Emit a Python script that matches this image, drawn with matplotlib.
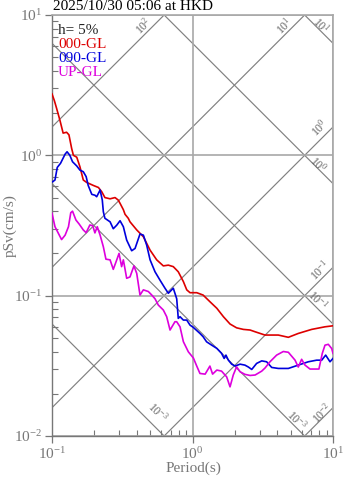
import numpy as np
import matplotlib
matplotlib.use('Agg')
import matplotlib.pyplot as plt
from matplotlib.ticker import LogLocator, FixedLocator, FixedFormatter, NullFormatter

plt.rcParams['font.family'] = ['Liberation Serif', 'DejaVu Serif']
plt.rcParams['mathtext.fontset'] = 'custom'
plt.rcParams['mathtext.rm'] = 'Liberation Serif'

title = '2025/10/30 05:06 at HKD'
damping = 'h= 5%'
names = ['000-GL', '090-GL', 'UP-GL']
colors = ['#dd0000', '#0000dd', '#dd00dd']

# pseudo velocity response, period (s) vs pSv (cm/s)
per_000 = [0.100, 0.104, 0.108, 0.114, 0.120, 0.127, 0.132, 0.138, 0.142, 0.150,
           0.158, 0.167, 0.177, 0.197, 0.214, 0.226, 0.238, 0.259, 0.281, 0.296,
           0.305, 0.322, 0.331, 0.349, 0.359, 0.401, 0.447, 0.499, 0.556, 0.620,
           0.673, 0.730, 0.792, 0.861, 0.910, 0.960, 1.072, 1.19, 1.33, 1.49,
           1.66, 1.85, 2.06, 2.30, 2.57, 2.79, 3.28, 4.08, 4.81, 5.66, 7.05, 8.77, 10.0]
sv_000 = [2.74, 2.45, 2.15, 1.77, 1.44, 1.46, 1.40, 1.12, 1.00, 0.97,
          0.83, 0.667, 0.64, 0.61, 0.59, 0.55, 0.50, 0.49, 0.50, 0.48,
          0.455, 0.41, 0.38, 0.356, 0.336, 0.294, 0.263, 0.211, 0.180, 0.163,
          0.165, 0.161, 0.148, 0.126, 0.110, 0.105, 0.105, 0.101, 0.0906, 0.0813,
          0.0708, 0.0628, 0.059, 0.0575, 0.0569, 0.0553, 0.0524, 0.0524, 0.0505, 0.0538, 0.0575, 0.060, 0.061]

per_090 = [0.101, 0.105, 0.109, 0.115, 0.124, 0.128, 0.134, 0.140, 0.150, 0.158,
           0.167, 0.175, 0.181, 0.192, 0.202, 0.208, 0.220, 0.228, 0.232, 0.238,
           0.259, 0.273, 0.289, 0.305, 0.322, 0.340, 0.369, 0.390, 0.423, 0.447,
           0.472, 0.499, 0.541, 0.587, 0.637, 0.673, 0.730, 0.772, 0.792, 0.815,
           0.861, 0.910, 0.960, 1.014, 1.13, 1.19, 1.26, 1.37, 1.49, 1.61,
           1.68, 1.73, 1.80, 1.90, 2.01, 2.18, 2.36, 2.50, 2.64, 2.86,
           3.11, 3.37, 3.66, 4.08, 4.81, 5.66, 6.67, 7.65, 8.31, 8.87, 9.52, 10.0]
sv_090 = [0.648, 0.667, 0.82, 0.877, 1.02, 1.06, 1.00, 0.90, 0.84, 0.785,
          0.764, 0.705, 0.61, 0.527, 0.52, 0.507, 0.566, 0.48, 0.396, 0.356,
          0.336, 0.30, 0.318, 0.342, 0.31, 0.249, 0.209, 0.217, 0.275, 0.27,
          0.229, 0.18, 0.148, 0.129, 0.113, 0.104, 0.113, 0.095, 0.0689, 0.0708,
          0.067, 0.067, 0.0617, 0.0594, 0.0538, 0.051, 0.0469, 0.0444, 0.0421, 0.0388,
          0.0357, 0.0377, 0.0347, 0.0325, 0.0315, 0.0325, 0.032, 0.031, 0.0298, 0.0329,
          0.0343, 0.0338, 0.0308, 0.0303, 0.0303, 0.032, 0.0338, 0.0347, 0.0347, 0.0377, 0.0338, 0.0357]

per_up = [0.100, 0.105, 0.111, 0.117, 0.124, 0.131, 0.136, 0.140, 0.148, 0.156,
          0.167, 0.175, 0.186, 0.195, 0.202, 0.210, 0.220, 0.232, 0.242, 0.259,
          0.273, 0.289, 0.300, 0.313, 0.322, 0.340, 0.359, 0.383, 0.401, 0.423,
          0.447, 0.485, 0.513, 0.541, 0.571, 0.620, 0.655, 0.692, 0.750, 0.772,
          0.815, 0.861, 0.934, 1.014, 1.072, 1.13, 1.23, 1.29, 1.33, 1.39,
          1.49, 1.61, 1.75, 1.85, 1.95, 2.06, 2.18, 2.36, 2.57, 2.79,
          3.11, 3.28, 3.56, 3.97, 4.43, 4.81, 5.37, 5.66, 5.98, 6.32,
          6.86, 7.94, 8.39, 8.77, 9.26, 9.79, 10.0]
sv_up = [0.386, 0.31, 0.278, 0.251, 0.27, 0.31, 0.39, 0.40, 0.346, 0.324,
         0.294, 0.281, 0.319, 0.315, 0.28, 0.31, 0.27, 0.223, 0.182, 0.18,
         0.154, 0.18, 0.20, 0.161, 0.18, 0.133, 0.136, 0.163, 0.144, 0.101,
         0.11, 0.107, 0.101, 0.095, 0.0857, 0.079, 0.0708, 0.0569, 0.0652, 0.0652,
         0.060, 0.047, 0.0398, 0.036, 0.0315, 0.0279, 0.0276, 0.0299, 0.0315, 0.0276,
         0.0295, 0.029, 0.0264, 0.0224, 0.0272, 0.0311, 0.0287, 0.0275, 0.027, 0.0272,
         0.029, 0.0305, 0.0338, 0.0377, 0.040, 0.0395, 0.0347, 0.031, 0.0352, 0.032,
         0.030, 0.030, 0.0388, 0.0444, 0.045, 0.042, 0.0388]

# tripartite guide lines: Sa in cm/s^2, Sd in cm
sa_levels = [1e2, 1e1, 1e0, 1e-1, 1e-2]
sa_labels = ['10^{2}', '10^{1}', '10^{0}', '10^{-1}', '10^{-2}']
sd_levels = [1e1, 1e0, 1e-1, 1e-2, 1e-3]
sd_labels = ['10^{1}', '10^{0}', '10^{-1}', '10^{-3}', '10^{-3}']

tmin, tmax = 0.1, 10.0
vmin, vmax = 0.01, 10.0
gray = '#777777'
light = '#a8a8a8'

W, H = 347, 478
fig = plt.figure(figsize=(W / 100, H / 100), dpi=100)
ax = fig.add_axes([52 / W, 42 / H, 281 / W, 421 / H])
ax.set_xscale('log')
ax.set_yscale('log')
ax.set_xlim(tmin, tmax)
ax.set_ylim(vmin, vmax)

tt = np.array([tmin, tmax])
for sa in sa_levels:
    ax.plot(tt, sa * tt / (2 * np.pi), color='#808080', lw=0.85, zorder=1)
for sd in sd_levels:
    ax.plot(tt, 2 * np.pi * sd / tt, color='#808080', lw=0.85, zorder=1)

# labels near the end of each guide line (offsets in pixels)
sa_off = [(-21, -11), (-20, -11), (-13, -1), (-13, -3), (-11, -6)]
sd_off = [(-12, 18), (-15, 19), (-15, 24), (-8, 16), (-7, 24)]
for sa, lab, off in zip(sa_levels, sa_labels, sa_off):
    t_end = min(tmax, 2 * np.pi * vmax / sa)
    ax.annotate(r'$\mathregular{%s}$' % lab, (t_end, sa * t_end / (2 * np.pi)),
                xytext=off, textcoords='offset pixels', rotation=45,
                ha='center', va='center', fontsize=8.5, color='#666666', zorder=2)
for sd, lab, off in zip(sd_levels, sd_labels, sd_off):
    t_end = min(tmax, 2 * np.pi * sd / vmin)
    ax.annotate(r'$\mathregular{%s}$' % lab, (t_end, 2 * np.pi * sd / t_end),
                xytext=off, textcoords='offset pixels', rotation=-45,
                ha='center', va='center', fontsize=8.5, color='#666666', zorder=2)

ax.plot(per_000, sv_000, color=colors[0], lw=1.2, zorder=4)
ax.plot(per_090, sv_090, color=colors[1], lw=1.2, zorder=4)
ax.plot(per_up, sv_up, color=colors[2], lw=1.2, zorder=4)

xt = [0.1, 1, 10]
yt = [0.01, 0.1, 1, 10]
ax.xaxis.set_major_locator(FixedLocator(xt))
ax.yaxis.set_major_locator(FixedLocator(yt))
ax.xaxis.set_major_formatter(FixedFormatter([r'$\mathregular{10^{-1}}$', r'$\mathregular{10^{0}}$', r'$\mathregular{10^{1}}$']))
ax.yaxis.set_major_formatter(FixedFormatter([r'$\mathregular{10^{-2}}$', r'$\mathregular{10^{-1}}$',
                                             r'$\mathregular{10^{0}}$', r'$\mathregular{10^{1}}$']))
ax.xaxis.set_minor_locator(LogLocator(subs=np.arange(2, 10)))
ax.yaxis.set_minor_locator(LogLocator(subs=np.arange(2, 10)))
ax.xaxis.set_minor_formatter(NullFormatter())
ax.yaxis.set_minor_formatter(NullFormatter())
ax.tick_params(which='major', direction='out', length=5, width=0.9, color=gray,
               labelcolor=gray, labelsize=11, pad=2)
ax.tick_params(which='minor', direction='in', length=4, width=0.8, color=gray)
ax.grid(True, which='major', color=light, lw=1.2, zorder=0)

for s in ['left', 'bottom']:
    ax.spines[s].set_color(gray)
    ax.spines[s].set_linewidth(1.0)
for s in ['top', 'right']:
    ax.spines[s].set_color(light)
    ax.spines[s].set_linewidth(1.2)

fig.text(53 / W, 1 - 7 / H, title, fontsize=11, color='black', va='center', ha='left')
fig.text(58 / W, 1 - 30 / H, damping, fontsize=11, color='#222222', va='center')
for nm, c, yp in zip(names, colors, [44, 59, 73]):
    fig.text(58 / W, 1 - yp / H, nm, fontsize=11, color=c, va='center')

fig.text(10 / W, 1 - 226 / H, 'pSv(cm/s)', rotation=90, fontsize=11, color=gray,
         ha='center', va='center')
fig.text(193 / W, 1 - 468 / H, 'Period(s)', fontsize=11, color=gray, ha='center', va='center')

fig.savefig('out.png', dpi=100)
